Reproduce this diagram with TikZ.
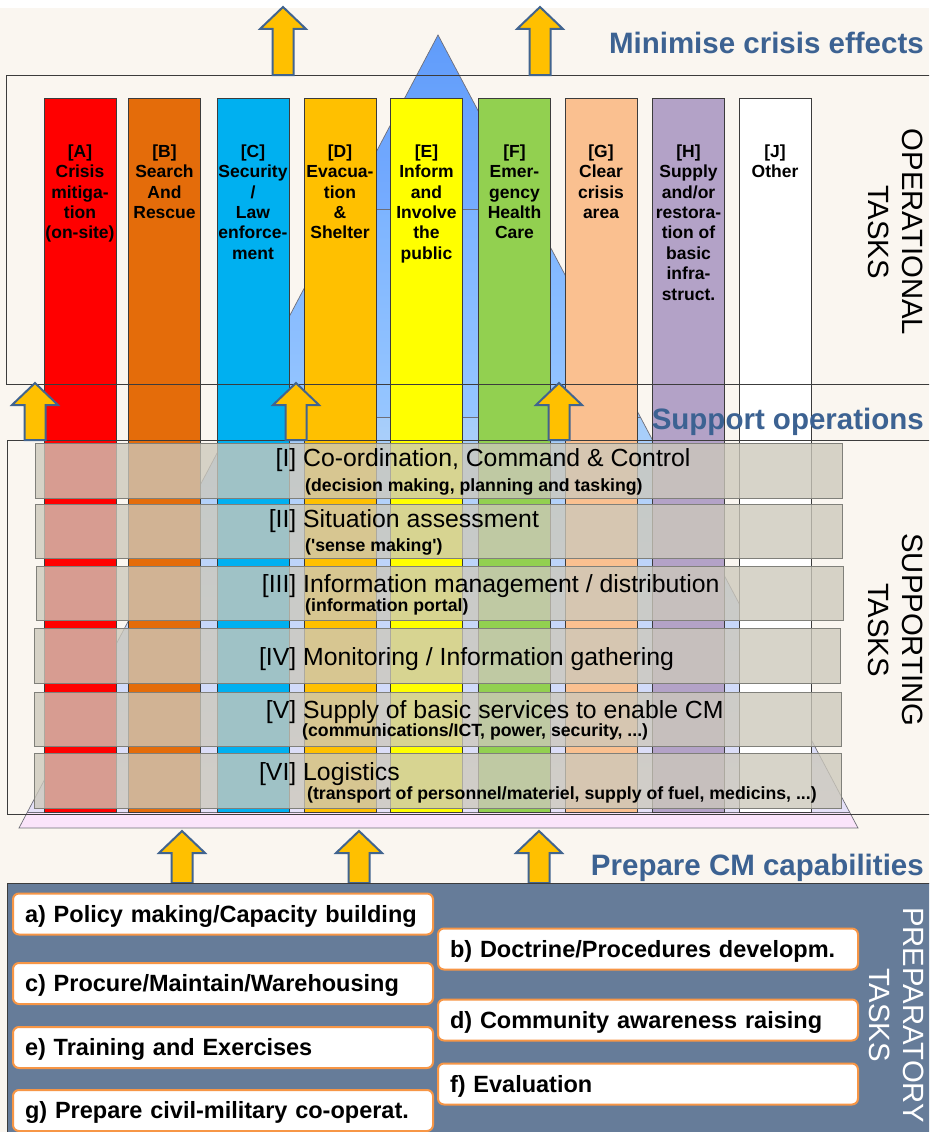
\documentclass[tikz,border=0pt]{standalone}
\usepackage{fontspec}
\setmainfont{Liberation Sans}
\newcommand\fsz[2]{\fontsize{#1}{#2}\selectfont}
\definecolor{cream}{RGB}{250,246,240}
\definecolor{cA}{RGB}{255,0,0}
\definecolor{cB}{RGB}{228,108,10}
\definecolor{cC}{RGB}{0,176,240}
\definecolor{cD}{RGB}{255,192,0}
\definecolor{cE}{RGB}{255,255,0}
\definecolor{cF}{RGB}{146,208,80}
\definecolor{cG}{RGB}{250,192,144}
\definecolor{cH}{RGB}{179,162,199}
\definecolor{cJ}{RGB}{255,255,255}
\definecolor{headblue}{RGB}{60,98,146}
\definecolor{arrowfill}{RGB}{255,192,0}
\definecolor{arrowline}{RGB}{65,100,143}
\definecolor{bandfill}{RGB}{204,200,187}
\definecolor{bandline}{RGB}{128,128,122}
\definecolor{prepfill}{RGB}{102,124,153}
\definecolor{prepedge}{RGB}{247,150,70}
\definecolor{frameline}{RGB}{60,60,60}
\definecolor{pyrA}{RGB}{96,156,250}
\definecolor{pyrB}{RGB}{118,172,255}
\definecolor{pyrC}{RGB}{125,180,255}
\definecolor{pyrD}{RGB}{150,198,255}
\definecolor{pyrE}{RGB}{165,205,250}
\definecolor{pyrF}{RGB}{230,225,248}
\definecolor{pyrpink}{RGB}{250,228,250}
\definecolor{pyrline}{RGB}{110,110,120}
\newcommand\blkarrow[3]{%
  \draw[blockarrow] (#1,#2) -- ({#1+23},{#2+22}) -- ({#1+10.5},{#2+22}) -- ({#1+10.5},#3)
    -- ({#1-10.5},#3) -- ({#1-10.5},{#2+22}) -- ({#1-23},{#2+22}) -- cycle;}
\begin{document}
\begin{tikzpicture}[x=1pt,y=-1pt,
  colbox/.style={draw=frameline, line width=0.8pt},
  coltext/.style={anchor=north, align=center, inner sep=0pt, font=\fsz{17.5}{20.4}\bfseries},
  frame/.style={draw=frameline, line width=0.9pt},
  blockarrow/.style={fill=arrowfill, draw=arrowline, line width=2pt, line join=miter},
  band/.style={fill=bandfill, fill opacity=0.78, draw=bandline, draw opacity=1, line width=0.8pt},
  bandmain/.style={anchor=base west, inner sep=0pt, font=\fsz{24.8}{28}},
  bandsub/.style={anchor=base west, inner sep=0pt, font=\fsz{17.7}{20}\bfseries},
  heading/.style={anchor=base east, inner sep=0pt, text=headblue, font=\fsz{29.5}{34}\bfseries},
  rotlabel/.style={anchor=base, rotate=-90, inner sep=0pt, font=\fsz{29.3}{34}},
  prepbox/.style={draw=prepedge, line width=2pt, fill=white, rounded corners=6pt, anchor=west,
    minimum height=41pt, inner xsep=12pt, inner ysep=0pt, text width=396pt, align=left,
    font=\fsz{23.5}{28}\bfseries, text height=16.8pt, text depth=0pt},
  pyredge/.style={draw=pyrline, line width=0.7pt}
]
\path[use as bounding box] (0,0) rectangle (929,1132);
\clip (0,0) rectangle (929,1132);
\fill[white] (0,0) rectangle (929,1132);
\fill[cream] (0,8) rectangle (929,1132);

% pyramid
\begin{scope}
  \clip (438,35) -- (858,828) -- (19,828) -- cycle;
  \shade[top color=pyrA, bottom color=pyrB] (0,35) rectangle (929,209);
  \shade[top color=pyrC, bottom color=pyrD] (0,209) rectangle (929,417);
  \shade[top color=pyrE, bottom color=pyrF] (0,417) rectangle (929,812);
  \fill[pyrpink] (0,812) rectangle (929,828);
  \draw[pyredge] (0,209) -- (929,209) (0,417) -- (929,417) (0,812) -- (929,812);
\end{scope}
\draw[pyredge] (438,35) -- (858,828) -- (19,828) -- cycle;

% operational columns
\foreach \cx/\cc in {80/cA, 164.5/cB, 253/cC, 340/cD, 426.5/cE, 514.5/cF, 601/cG, 688.5/cH, 775/cJ}
  \draw[colbox, fill=\cc] ({\cx-36},98) rectangle ({\cx+36},812);

% frames
\draw[frame] (6,75) rectangle (940,384);
\draw[frame] (7,440) rectangle (940,814);

% column texts
\node[coltext] (tA) at (80,144.5) {[A]\\Crisis\\mitiga-\\tion\\(on-site)};
\node[coltext] (tB) at (164.5,144.5) {[B]\\Search\\And\\Rescue};
\node[coltext] (tC) at (253,144.5) {[C]\\Security\\/\\Law\\enforce-\\ment};
\node[coltext] (tD) at (340,144.5) {[D]\\Evacua-\\tion\\\&\\Shelter};
\node[coltext] (tE) at (426.5,144.5) {[E]\\Inform\\and\\Involve\\the\\public};
\node[coltext] (tF) at (514.5,144.5) {[F]\\Emer-\\gency\\Health\\Care};
\node[coltext] (tG) at (601,144.5) {[G]\\Clear\\crisis\\area};
\node[coltext] (tH) at (688.5,144.5) {[H]\\Supply\\and/or\\restora-\\tion of\\basic\\infra-\\struct.};
\node[coltext] (tJ) at (775,144.5) {[J]\\Other};

% arrows
\blkarrow{283}{7}{75}
\blkarrow{540}{7}{75}
\blkarrow{35}{383}{440}
\blkarrow{296}{383}{440}
\blkarrow{559}{383}{440}
\blkarrow{182}{831}{883}
\blkarrow{359}{831}{883}
\blkarrow{539}{831}{883}

% supporting bands
\draw[band] (35,443) rectangle (842,498);
\draw[band] (35,504) rectangle (842,558);
\draw[band] (36,566) rectangle (843,620);
\draw[band] (34,628) rectangle (840,683);
\draw[band] (34,692) rectangle (841,746);
\draw[band] (34,753) rectangle (841,808);

\node[bandmain] (m1) at (303,466) {\llap{[I]\ }Co-ordination, Command \& Control};
\node[bandsub] (s1) at (305,491.3) {(decision making, planning and tasking)};
\node[bandmain] (m2) at (303,527) {\llap{[II]\ }Situation assessment};
\node[bandsub] (s2) at (305,551) {(\textquotesingle sense making\textquotesingle)};
\node[bandmain] (m3) at (303,592) {\llap{[III]\ }Information management / distribution};
\node[bandsub] (s3) at (305,611) {(information portal)};
\node[bandmain] (m4) at (303,665) {\llap{[IV]\ }Monitoring / Information gathering};
\node[bandmain] (m5) at (303,718) {\llap{[V]\ }Supply of basic services to enable CM};
\node[bandsub] (s5) at (302,736) {(communications/ICT, power, security, ...)};
\node[bandmain] (m6) at (303,780) {\llap{[VI]\ }Logistics};
\node[bandsub] (s6) at (307,799) {(transport of personnel/materiel, supply of fuel, medicins, ...)};

% headings
\node[heading] (h1) at (924,53) {Minimise crisis effects};
\node[heading] (h2) at (924,429) {Support operations};
\node[heading] (h3) at (924,875) {Prepare CM capabilities};

% rotated labels
\node[rotlabel] (op1) at (902,232) {OPERATIONAL};
\node[rotlabel] (op2) at (868,232) {TASKS};
\node[rotlabel] (su1) at (902,630) {SUPPORTING};
\node[rotlabel] (su2) at (868,630) {TASKS};

% preparatory area
\fill[prepfill] (7,883) rectangle (940,1140);
\draw[frame] (7,1140) -- (7,883) -- (940,883);
\node[rotlabel, text=white] (pr1) at (903,1015) {PREPARATORY};
\node[rotlabel, text=white] (pr2) at (869,1015) {TASKS};

\node[prepbox] (pa) at (12,914) {a) Policy making/Capacity building};
\node[prepbox] (pc) at (12,983.5) {c) Procure/Maintain/Warehousing};
\node[prepbox] (pe) at (12,1047.5) {e) Training and Exercises};
\node[prepbox] (pg) at (12,1110.5) {g) Prepare civil-military co-operat.};
\node[prepbox] (pb) at (437,949) {b) Doctrine/Procedures developm.};
\node[prepbox] (pd) at (437,1020) {d) Community awareness raising};
\node[prepbox] (pf) at (437,1084) {f) Evaluation};
\end{tikzpicture}
\end{document}
